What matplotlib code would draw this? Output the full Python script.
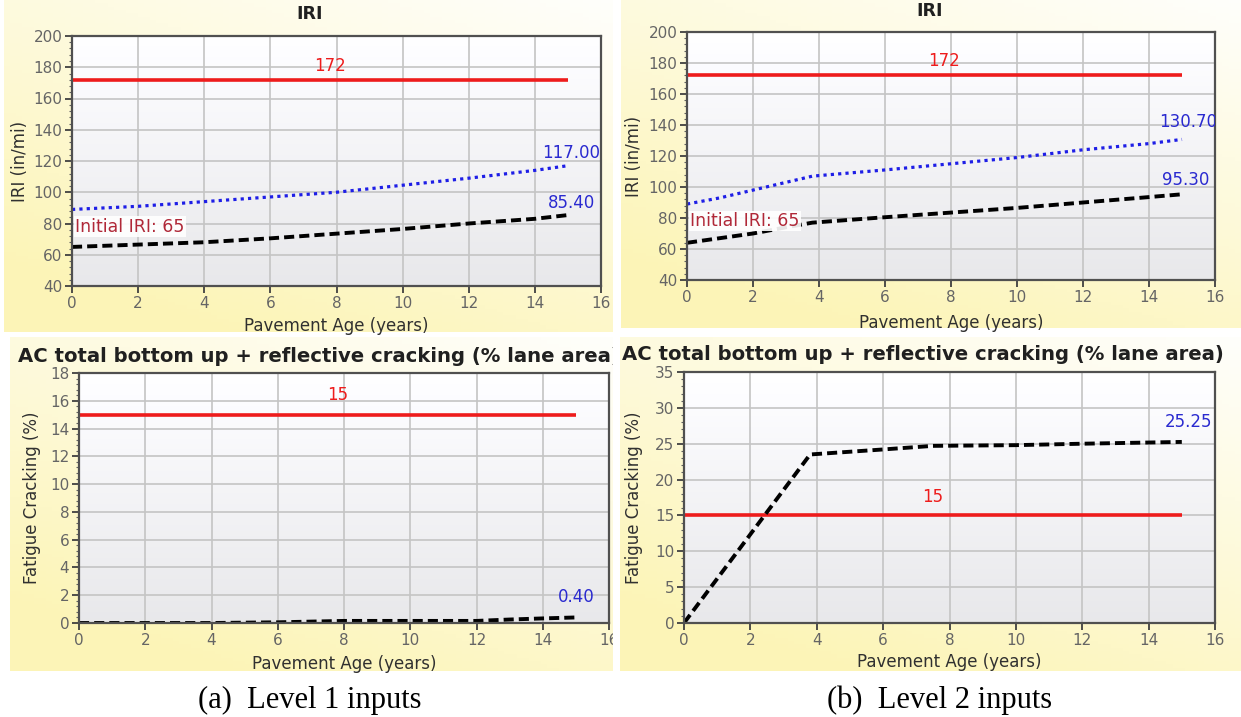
import numpy as np
import matplotlib
matplotlib.use('Agg')
import matplotlib.pyplot as plt
from matplotlib.ticker import MultipleLocator, AutoMinorLocator
from matplotlib.patches import Rectangle

W, H = 1241, 717

# ---- data ----
# IRI, level 1
iri_years_l1 = [0, 2, 4, 6, 8, 10, 12, 14, 15]
iri_rel_l1 = [89, 91, 94, 97, 100, 104.5, 109, 114, 117.0]
iri_mean_l1 = [65, 66.5, 68, 70.5, 73.5, 76.5, 80, 83, 85.4]
# IRI, level 2
iri_years_l2 = [0, 1, 2, 3, 3.8, 6, 8, 10, 12, 14, 15]
iri_rel_l2 = [89, 93, 98, 103, 107, 111, 115, 119, 124, 128, 130.7]
iri_mean_l2 = [64, 67, 70, 74, 77, 80.5, 83.5, 86.5, 90, 93.5, 95.3]
iri_limit = 172
iri_initial = 65
# fatigue cracking
crk_years_l1 = [0, 2, 4, 6, 8, 10, 12, 13, 14, 15]
crk_l1 = [0, 0, 0, 0.05, 0.15, 0.15, 0.15, 0.25, 0.33, 0.40]
crk_years_l2 = [0, 3.8, 6, 7.5, 10, 12, 15]
crk_l2 = [0, 23.5, 24.2, 24.7, 24.8, 25.0, 25.25]
crk_limit = 15

RED = '#ee1c1c'
BLUE = '#1e1ee6'
TXT_BLUE = '#2a2ad0'
DASH = (0, (2.6, 1.3))
DOT = (0, (1, 1.3))
CRACK_TITLE = 'AC total bottom up + reflective cracking (% lane area)'


def rect(x0, y0, x1, y1):
    return [x0 / W, 1 - y1 / H, (x1 - x0) / W, (y1 - y0) / H]


def panel_bg(x0, y0, x1, y1, z, gap=0):
    bg = fig.add_axes(rect(x0 - gap, y0, x1, y1), zorder=z)
    bg.set_axis_off()
    bg.add_patch(Rectangle((0, 0), 1, 1, color='white', zorder=0))
    yy, xx = np.mgrid[0:1:100j, 0:1:100j]
    t = np.clip(0.7 * yy + 0.4 * (1 - xx) + 0.05, 0, 1)
    yellow = np.array([0.99, 0.96, 0.72])
    img = (1 - t[..., None]) * np.ones(3) + t[..., None] * yellow
    g = gap / (x1 - x0 + gap)
    bg.imshow(img, extent=[g, 1, 0, 1], aspect='auto', zorder=1)
    bg.set_xlim(0, 1)
    bg.set_ylim(0, 1)
    return bg


def setup(ax, ymin, ymax, ystep, ylabel, ylab_x, xlab_y, px):
    x0, y0, x1, y1 = px
    ax.set_xlim(0, 16)
    ax.set_ylim(ymin, ymax)
    ax.xaxis.set_major_locator(MultipleLocator(2))
    ax.yaxis.set_major_locator(MultipleLocator(ystep))
    ax.yaxis.set_minor_locator(AutoMinorLocator(5))
    ax.grid(True, which='major', color='#c4c4c4', lw=1.2)
    ax.set_axisbelow(True)
    for s in ax.spines.values():
        s.set_color('#505050')
        s.set_linewidth(1.6)
    ax.tick_params(which='major', length=5, width=1.3, color='#404040',
                   labelcolor='#656565', labelsize=11, pad=2)
    ax.tick_params(axis='y', which='minor', length=2.5, width=0.8, color='#606060')
    grad = np.linspace(1.0, 0.91, 200)[:, None, None] * np.ones((1, 1, 3))
    grad[..., 2] = np.minimum(grad[..., 2] + 0.01, 1)
    ax.imshow(grad, extent=[0, 16, ymin, ymax], aspect='auto', zorder=0)
    ax.set_xlim(0, 16)
    ax.set_ylim(ymin, ymax)
    ax.set_xlabel('Pavement Age (years)', fontsize=12, color='#303030')
    ax.set_ylabel(ylabel, fontsize=12, color='#303030')
    ax.xaxis.label.set_va('center')
    ax.yaxis.label.set_va('center')
    ax.xaxis.set_label_coords(0.5, (y1 - xlab_y) / (y1 - y0))
    ax.yaxis.set_label_coords((ylab_x - x0) / (x1 - x0), 0.5)


fig = plt.figure(figsize=(W / 100, H / 100), dpi=100)

# panel backgrounds
panel_bg(4, 0, 613, 332, 0)
panel_bg(621, 0, 1241, 328, 0)
panel_bg(10, 337, 613, 671, 0)

# ---- top left: IRI level 1 ----
px = (72, 36, 601, 286)
ax1 = fig.add_axes(rect(*px), zorder=1)
setup(ax1, 40, 200, 20, 'IRI (in/mi)', 20, 326, px)
ax1.plot([0, 15], [iri_limit, iri_limit], color=RED, lw=2.6, solid_capstyle='butt')
ax1.plot(iri_years_l1, iri_rel_l1, color=BLUE, lw=2.3, ls=DOT)
ax1.plot(iri_years_l1, iri_mean_l1, color='black', lw=2.8, ls=DASH)
ax1.text(7.8, iri_limit + 9, str(iri_limit), color=RED, fontsize=12, ha='center', va='center')
ax1.text(15.1, iri_rel_l1[-1] + 8, '%.2f' % iri_rel_l1[-1], color=TXT_BLUE, fontsize=12,
         ha='center', va='center', clip_on=True)
ax1.text(15.1, iri_mean_l1[-1] + 8, '%.2f' % iri_mean_l1[-1], color=TXT_BLUE, fontsize=12,
         ha='center', va='center', clip_on=True)
ax1.text(0.1, 78, 'Initial IRI: %d' % iri_initial, color='#b02838', fontsize=12.5,
         ha='left', va='center', zorder=5,
         bbox=dict(facecolor='white', edgecolor='none', alpha=0.9, pad=1.0))
fig.text(310 / W, 1 - 14 / H, 'IRI', fontsize=12.5, fontweight='bold', color='#202020',
         ha='center', va='center')

# ---- top right: IRI level 2 ----
px = (687, 32, 1215, 280)
ax2 = fig.add_axes(rect(*px), zorder=1)
setup(ax2, 40, 200, 20, 'IRI (in/mi)', 634, 323, px)
ax2.plot([0, 15], [iri_limit, iri_limit], color=RED, lw=2.6, solid_capstyle='butt')
ax2.plot(iri_years_l2, iri_rel_l2, color=BLUE, lw=2.3, ls=DOT)
ax2.plot(iri_years_l2, iri_mean_l2, color='black', lw=2.8, ls=DASH)
ax2.text(7.8, iri_limit + 9, str(iri_limit), color=RED, fontsize=12, ha='center', va='center')
ax2.text(15.2, iri_rel_l2[-1] + 11, '%.2f' % iri_rel_l2[-1], color=TXT_BLUE, fontsize=12,
         ha='center', va='center', clip_on=True)
ax2.text(15.1, iri_mean_l2[-1] + 9, '%.2f' % iri_mean_l2[-1], color=TXT_BLUE, fontsize=12,
         ha='center', va='center', clip_on=True)
ax2.text(0.1, 78, 'Initial IRI: %d' % iri_initial, color='#b02838', fontsize=12.5,
         ha='left', va='center', zorder=5,
         bbox=dict(facecolor='white', edgecolor='none', alpha=0.9, pad=1.0))
fig.text(930 / W, 1 - 11 / H, 'IRI', fontsize=12.5, fontweight='bold', color='#202020',
         ha='center', va='center')

# ---- bottom left: cracking level 1 ----
px = (79, 373, 609, 623)
ax3 = fig.add_axes(rect(*px), zorder=1)
setup(ax3, 0, 18, 2, 'Fatigue Cracking (%)', 32, 664, px)
ax3.plot([0, 15], [crk_limit, crk_limit], color=RED, lw=2.6, solid_capstyle='butt')
ax3.plot(crk_years_l1, crk_l1, color='black', lw=2.8, ls=DASH)
ax3.text(7.8, crk_limit + 1.4, str(crk_limit), color=RED, fontsize=12, ha='center', va='center')
ax3.text(15.0, crk_l1[-1] + 1.5, '%.2f' % crk_l1[-1], color=TXT_BLUE, fontsize=12,
         ha='center', va='center', clip_on=True)
fig.text(18 / W, 1 - 356 / H, CRACK_TITLE, fontsize=14.1, fontweight='bold',
         color='#202020', ha='left', va='center', zorder=1.5)

# ---- bottom right: cracking level 2 (drawn over the left panel's overflow) ----
panel_bg(620, 337, 1241, 671, 2, gap=7)
px = (684, 372, 1215, 623)
ax4 = fig.add_axes(rect(*px), zorder=3)
setup(ax4, 0, 35, 5, 'Fatigue Cracking (%)', 634, 662, px)
ax4.plot([0, 15], [crk_limit, crk_limit], color=RED, lw=2.6, solid_capstyle='butt')
ax4.plot(crk_years_l2, crk_l2, color='black', lw=2.8, ls=DASH)
ax4.text(7.5, crk_limit + 2.6, str(crk_limit), color=RED, fontsize=12, ha='center', va='center')
ax4.text(15.2, crk_l2[-1] + 2.8, '%.2f' % crk_l2[-1], color=TXT_BLUE, fontsize=12,
         ha='center', va='center', clip_on=True)
fig.text(622 / W, 1 - 354 / H, CRACK_TITLE, fontsize=14.1, fontweight='bold',
         color='#202020', ha='left', va='center', zorder=3.5)

# captions
fig.text(310 / W, 1 - 700 / H, '(a)  Level 1 inputs', family='Liberation Serif',
         fontsize=22, ha='center', va='center')
fig.text(940 / W, 1 - 700 / H, '(b)  Level 2 inputs', family='Liberation Serif',
         fontsize=22, ha='center', va='center')

fig.savefig('out.png', dpi=100)
